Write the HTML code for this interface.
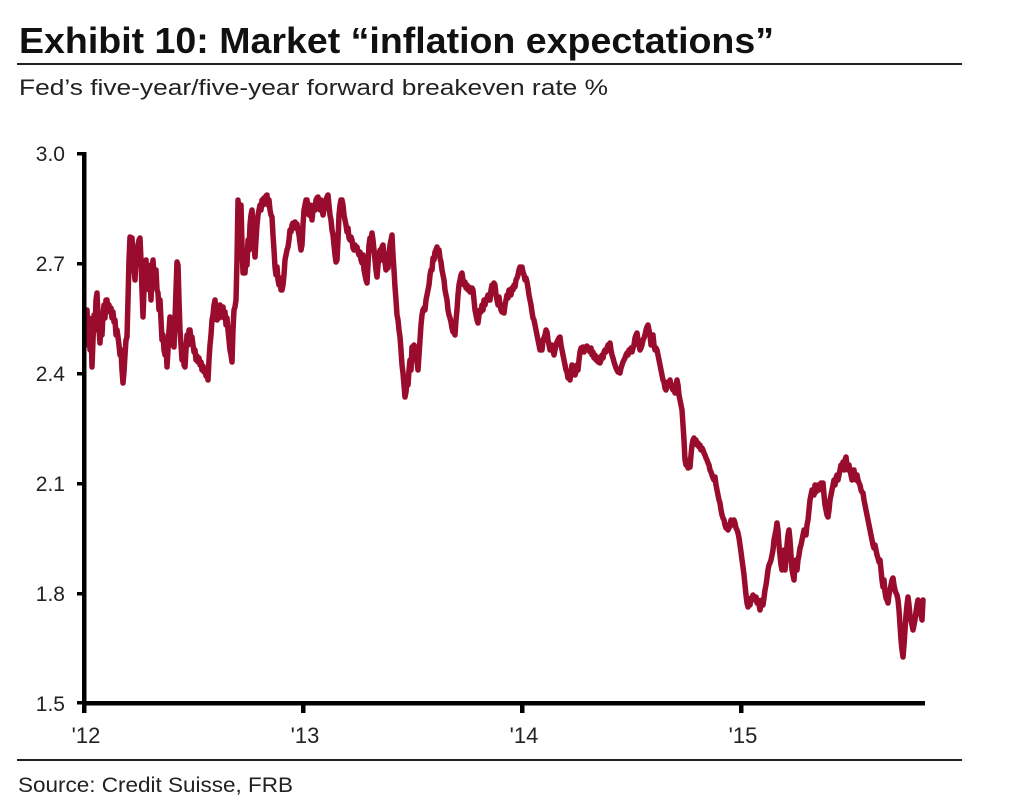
<!DOCTYPE html>
<html><head><meta charset="utf-8"><style>
html,body{margin:0;padding:0;background:#fff;}
svg{display:block;}
text{font-family:"Liberation Sans",Arial,sans-serif;fill:#222;}
</style></head><body>
<svg width="1011" height="810" viewBox="0 0 1011 810" xmlns="http://www.w3.org/2000/svg">
<rect width="1011" height="810" fill="#fff"/>
<text x="19" y="53" font-size="36" font-weight="bold" fill="#111" textLength="755" lengthAdjust="spacingAndGlyphs" style="fill:#111">Exhibit 10: Market “inflation expectations”</text>
<rect x="17" y="63" width="945" height="2" fill="#222"/>
<text x="19" y="95" font-size="22" textLength="589" lengthAdjust="spacingAndGlyphs">Fed’s five-year/five-year forward breakeven rate %</text>

<g font-size="21" text-anchor="end">
<text x="65" y="161">3.0</text>
<text x="65" y="271">2.7</text>
<text x="65" y="381">2.4</text>
<text x="65" y="491">2.1</text>
<text x="65" y="601">1.8</text>
<text x="65" y="711">1.5</text>
</g>
<g font-size="22" text-anchor="middle">
<text x="86" y="743">'12</text>
<text x="305" y="743">'13</text>
<text x="524" y="743">'14</text>
<text x="743" y="743">'15</text>
</g>

<polyline fill="none" stroke="#9a0c2e" stroke-width="5.5" stroke-linejoin="round" stroke-linecap="round" points="85,320 86,345 87,310 88,335 89,318 90,350 91,325 92,367 93,340 94,315 95,330 96,300 97,293 98,315 99,330 100,343 101,320 102,335 103,315 104,305 105,318 106,300 107,300 108,310 109,305 110,312 111,308 112,318 113,312 114,322 115,320 116,335 117,330 118,337 119,345 120,355 121,350 122,370 123,383 124,372 125,355 126,340 127,337 128,300 129,260 130,237 131,245 132,238 133,255 134,270 135,280 136,260 137,250 138,245 139,240 140,238 141,260 142,290 143,317 144,290 145,270 146,260 147,280 148,265 149,290 150,275 151,300 152,270 153,260 154,275 155,285 156,270 157,290 158,293 159,310 160,300 161,320 162,340 163,335 164,350 165,355 166,345 167,367 168,350 169,330 170,317 171,330 172,345 173,335 174,347 175,320 176,290 177,262 178,265 179,300 180,330 181,345 182,360 183,350 184,365 185,367 186,350 187,335 188,345 189,330 190,330 191,340 192,337 193,345 194,352 195,350 196,360 197,356 198,362 199,358 200,365 201,362 202,370 203,366 204,372 205,370 206,376 207,372 208,380 209,360 210,345 211,335 212,320 213,315 214,305 215,300 216,312 217,320 218,310 219,318 220,305 221,315 222,310 223,307 224,318 225,312 226,325 227,318 228,330 229,340 230,350 231,355 232,362 233,330 234,310 235,307 236,300 237,260 238,200 239,215 240,230 241,205 242,245 243,273 244,250 245,273 246,255 247,265 248,240 249,250 250,225 251,215 252,210 253,230 254,245 255,257 256,240 257,225 258,215 259,210 260,205 261,210 262,200 263,205 264,198 265,200 266,196 267,195 268,205 269,200 270,210 271,215 272,217 273,235 274,250 275,267 276,275 277,267 278,280 279,285 280,278 281,290 282,290 283,285 284,275 285,260 286,255 287,250 288,247 289,240 290,230 291,232 292,225 293,223 294,228 295,222 296,226 297,224 298,230 299,235 300,243 301,250 302,245 303,225 304,210 305,205 306,200 307,200 308,210 309,215 310,205 311,212 312,220 313,210 314,205 315,210 316,200 317,198 318,197 319,205 320,210 321,200 322,208 323,215 324,210 325,205 326,200 327,197 328,195 329,205 330,215 331,220 332,230 333,235 334,245 335,255 336,262 337,260 338,240 339,215 340,205 341,200 342,200 343,205 344,215 345,220 346,225 347,232 348,228 349,238 350,240 351,237 352,240 353,248 354,250 355,245 356,250 357,247 358,252 359,255 360,252 361,260 362,263 363,255 364,270 365,275 366,280 367,283 368,265 369,245 370,238 371,240 372,233 373,240 374,250 375,260 376,270 377,277 378,265 379,255 380,250 381,260 382,247 383,245 384,255 385,262 386,270 387,265 388,268 389,255 390,245 391,240 392,235 393,255 394,270 395,287 396,300 397,315 398,320 399,330 400,337 401,350 402,365 403,373 404,385 405,397 406,392 407,380 408,385 409,370 410,360 411,370 412,347 413,350 414,345 415,347 416,355 417,362 418,370 419,355 420,340 421,325 422,315 423,310 424,308 425,310 426,300 427,295 428,290 429,285 430,275 431,270 432,270 433,258 434,260 435,252 436,250 437,247 438,255 439,250 440,258 441,262 442,270 443,275 444,280 445,290 446,295 447,300 448,310 449,315 450,318 451,322 452,328 453,332 454,330 455,335 456,320 457,310 458,295 459,285 460,280 461,275 462,273 463,280 464,285 465,282 466,288 467,285 468,290 469,287 470,292 471,290 472,288 473,290 474,300 475,310 476,315 477,320 478,323 479,315 480,310 481,312 482,305 483,310 484,300 485,305 486,300 487,298 488,295 489,300 490,300 491,290 492,285 493,290 494,283 495,285 496,295 497,300 498,305 499,297 500,305 501,310 502,312 503,308 504,313 505,305 506,300 507,295 508,298 509,290 510,293 511,295 512,288 513,290 514,285 515,287 516,280 517,278 518,275 519,270 520,267 521,268 522,267 523,272 524,275 525,280 526,278 527,282 528,288 529,295 530,300 531,305 532,312 533,318 534,320 535,325 536,330 537,335 538,340 539,345 540,350 541,345 542,350 543,340 544,338 545,335 546,330 547,332 548,340 549,345 550,350 551,348 552,345 553,350 554,355 555,350 556,345 557,342 558,340 559,338 560,337 561,345 562,350 563,355 564,360 565,365 566,370 567,372 568,378 569,375 570,380 571,372 572,365 573,370 574,368 575,375 576,372 577,365 578,370 579,360 580,352 581,348 582,350 583,347 584,352 585,347 586,350 587,346 588,350 589,348 590,352 591,348 592,355 593,352 594,358 595,355 596,360 597,357 598,362 599,358 600,363 601,360 602,355 603,358 604,352 605,350 606,352 607,348 608,345 609,346 610,343 611,350 612,355 613,358 614,362 615,365 616,368 617,370 618,372 619,370 620,373 621,368 622,365 623,362 624,360 625,358 626,355 627,353 628,355 629,350 630,352 631,348 632,352 633,348 634,345 635,338 636,335 637,333 638,340 639,345 640,350 641,348 642,345 643,340 644,338 645,335 646,330 647,327 648,325 649,330 650,335 651,345 652,340 653,335 654,345 655,350 656,348 657,350 658,355 659,360 660,365 661,370 662,375 663,380 664,382 665,388 666,390 667,385 668,382 669,385 670,380 671,385 672,388 673,390 674,388 675,393 676,385 677,380 678,385 679,395 680,400 681,405 682,410 683,425 684,440 685,460 686,465 687,462 688,468 689,460 690,467 691,455 692,445 693,440 694,438 695,442 696,440 697,445 698,443 699,447 700,445 701,450 702,448 703,450 704,453 705,455 706,458 707,460 708,463 709,465 710,470 711,472 712,475 713,478 714,480 715,477 716,485 717,490 718,495 719,500 720,503 721,510 722,515 723,518 724,520 725,525 726,528 727,525 728,530 729,528 730,525 731,520 732,522 733,525 734,520 735,523 736,528 737,530 738,533 739,538 740,545 741,552 742,560 743,567 744,575 745,585 746,595 747,603 748,607 749,602 750,605 751,598 752,600 753,595 754,598 755,600 756,597 757,603 758,600 759,605 760,610 761,605 762,600 763,605 764,598 765,590 766,585 767,578 768,570 769,565 770,563 771,560 772,555 773,550 774,540 775,535 776,530 777,523 778,530 779,545 780,555 781,565 782,570 783,560 784,550 785,570 786,560 787,545 788,535 789,530 790,540 791,555 792,570 793,575 794,580 795,565 796,560 797,570 798,560 799,555 800,548 801,545 802,540 803,535 804,530 805,530 806,535 807,525 808,520 809,510 810,500 811,495 812,490 813,490 814,495 815,485 816,492 817,488 818,485 819,490 820,487 821,483 822,485 823,483 824,495 825,505 826,510 827,515 828,517 829,510 830,500 831,495 832,490 833,485 834,480 835,485 836,478 837,475 838,480 839,475 840,470 841,465 842,468 843,462 844,470 845,460 846,457 847,465 848,470 849,465 850,470 851,475 852,480 853,475 854,470 855,478 856,480 857,475 858,480 859,483 860,485 861,490 862,492 863,493 864,500 865,505 866,510 867,515 868,520 869,525 870,530 871,535 872,540 873,545 874,548 875,545 876,550 877,555 878,558 879,562 880,560 881,570 882,580 883,587 884,580 885,592 886,598 887,600 888,603 889,595 890,590 891,585 892,580 893,578 894,585 895,590 896,593 897,595 898,600 899,610 900,625 901,640 902,650 903,657 904,645 905,630 906,615 907,605 908,597 909,605 910,615 911,620 912,625 913,630 914,625 915,620 916,612 917,605 918,600 919,602 920,610 921,615 922,620 923,600"/>

<rect x="82" y="152" width="4.5" height="555" fill="#000"/>
<rect x="82" y="701" width="843" height="4.5" fill="#000"/>
<g fill="#000">
<rect x="77" y="152" width="7" height="3.5"/>
<rect x="77" y="262" width="7" height="3.5"/>
<rect x="77" y="372" width="7" height="3.5"/>
<rect x="77" y="482" width="7" height="3.5"/>
<rect x="77" y="592" width="7" height="3.5"/>
<rect x="77" y="701" width="7" height="3.5"/>
<rect x="82" y="703" width="4.5" height="10"/>
<rect x="301" y="703" width="4.5" height="10"/>
<rect x="520" y="703" width="4.5" height="10"/>
<rect x="739" y="703" width="4.5" height="10"/>
</g>

<rect x="17" y="759" width="945" height="2" fill="#222"/>
<text x="18" y="792" font-size="21" textLength="275" lengthAdjust="spacingAndGlyphs">Source: Credit Suisse, FRB</text>
</svg>
</body></html>
